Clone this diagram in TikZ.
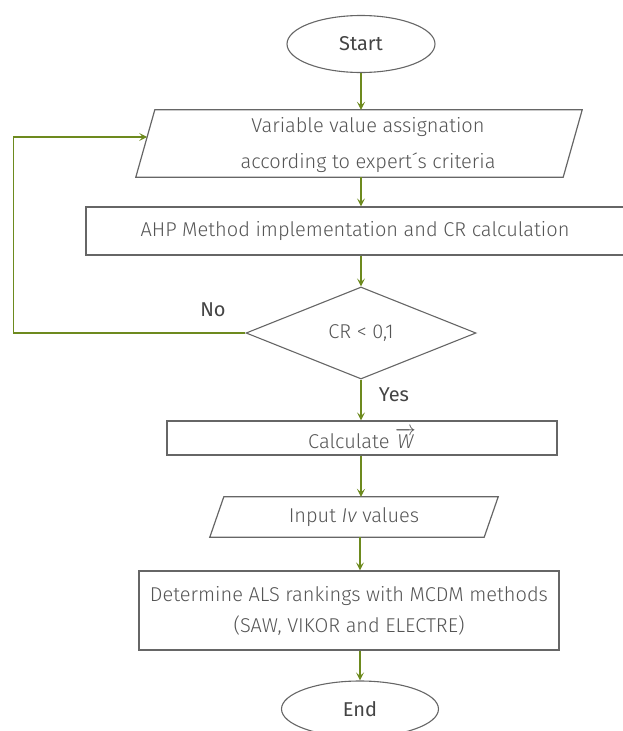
\documentclass[tikz,border=0pt]{standalone}
\usepackage{fontspec}
\IfFontExistsTF{Fira Sans Light}{%
  \setmainfont{Fira Sans Light}[BoldFont={Fira Sans},ItalicFont={Fira Sans Light Italic}]}{%
  \IfFontExistsTF{FiraSans-Light.otf}{%
    \setmainfont{FiraSans}[Extension=.otf,UprightFont=*-Light,ItalicFont=*-LightItalic,BoldFont=*-Regular]}{%
    \setmainfont{Fira Sans}[BoldFont={Fira Sans}]}}
\usetikzlibrary{shapes.geometric,arrows.meta,calc}
\definecolor{linegray}{HTML}{666666}
\definecolor{txtgray}{HTML}{555555}
\definecolor{lblgray}{HTML}{444444}
\definecolor{arrowgreen}{HTML}{6D8A1E}
\begin{document}
\begin{tikzpicture}[x=1pt,y=-1pt,
  every node/.style={text=txtgray,font=\fontsize{20}{24}\selectfont},
  box/.style={draw=linegray,line width=1.2pt,inner sep=0pt},
  term/.style={draw=linegray,line width=1.1pt,ellipse,inner sep=0pt,text=lblgray},
  ghost/.style={inner sep=0pt},
  arr/.style={draw=arrowgreen,line width=1.2pt,-{Stealth[length=8pt,width=8pt,inset=3.5pt]}},
  lbl/.style={font=\fontsize{20}{24}\selectfont\bfseries,text=lblgray}]
\useasboundingbox (0,0) rectangle (623,731);

% Start
\node[term,minimum width=148,minimum height=57,font=\fontsize{20}{24}\selectfont\bfseries] (start) at (361,44) {Start};

% parallelogram 1
\node[ghost,minimum width=446,minimum height=67] (p1) at (359,143.5) {};
\draw[linegray,line width=1.2pt] ([xshift=19]p1.north west) -- (p1.north east) -- ([xshift=-19]p1.south east) -- (p1.south west) -- cycle;
\node[align=center,font=\fontsize{20}{36}\selectfont] (p1t) at (368,145) {Variable value assignation\\according to expert´s criteria};
\coordinate (fb) at ($(p1.south west)!0.597!([xshift=19]p1.north west)$);

% AHP box
\node[box,minimum width=538,minimum height=48] (ahp) at (355,231) {AHP Method implementation and CR calculation};

% decision
\node[draw=linegray,line width=1.1pt,diamond,aspect=2.5,minimum width=230,minimum height=92,inner sep=0pt] (cr) at (361,333) {CR < 0,1};

% calculate W
\node[box,minimum width=390,minimum height=34] (calc) at (362,438) {Calculate $\overrightarrow{\mbox{\itshape W}}$};

% input parallelogram
\node[ghost,minimum width=288,minimum height=40] (inp) at (354,517) {Input {\itshape Iv} values};
\draw[linegray,line width=1.2pt] ([xshift=14]inp.north west) -- (inp.north east) -- ([xshift=-14]inp.south east) -- (inp.south west) -- cycle;

% MCDM box
\node[box,minimum width=420,minimum height=79,align=center,font=\fontsize{20}{31}\selectfont] (mcdm) at (349,610.5) {Determine ALS rankings with MCDM methods\\(SAW, VIKOR and ELECTRE)};

% End
\node[term,minimum width=157,minimum height=56,font=\fontsize{20}{24}\selectfont\bfseries] (end) at (360,709) {End};

% labels
\node[lbl] (no) at (213,310) {No};
\node[lbl] (yes) at (394,395) {Yes};

% connectors
\draw[arr] (start.south) -- (start.south |- p1.north);
\draw[arr] (start.south |- p1.south) -- (start.south |- ahp.north);
\draw[arr] (cr.north |- ahp.south) -- (cr.north);
\draw[arr] (cr.south) -- (cr.south |- calc.north);
\draw[arr] (cr.south |- calc.south) -- (cr.south |- inp.north);
\draw[arr] (end.north |- inp.south) -- (end.north |- mcdm.north);
\draw[arr] (end.north |- mcdm.south) -- (end.north);
\draw[arr] (cr.west) -- ++(-232,0) |- (fb);
\end{tikzpicture}
\end{document}
